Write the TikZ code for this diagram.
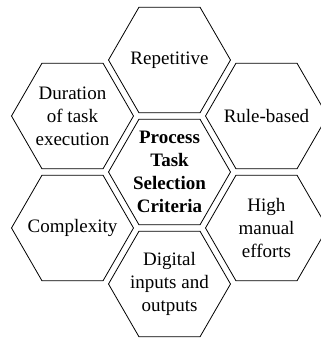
\documentclass[tikz,border=0pt]{standalone}
\usepackage{fontspec}
\setmainfont{Liberation Serif}
\usepackage{tikz}
\usetikzlibrary{positioning,calc}

\tikzset{
  hexcell/.style={align=center, inner sep=0pt,
    font=\fontsize{19}{23}\selectfont},
  hexcore/.style={hexcell, font=\fontsize{19}{23}\selectfont\bfseries},
  hexline/.style={line width=0.8pt, line join=miter}
}
% hexagon outline round a named node
\newcommand{\hexring}[1]{%
  \draw[hexline] (#1.center) ++(0:61pt)
    \foreach \a in {120,180,240,300,360} {-- ++(\a:61pt)} -- cycle;}

\begin{document}
\begin{tikzpicture}[x=1pt,y=1pt]
            \useasboundingbox (0,0) rectangle (321,338);
            \coordinate (o) at (169.5,166);

            \node[hexcore] (crit) at (o) {Process\\Task\\Selection\\Criteria};
            \node[hexcell] (rep)  at ($(o)+(90:112pt)$)  {Repetitive};
            \node[hexcell] (rule) at ($(o)+(30:112pt)$)  {Rule-based};
            \node[hexcell] (high) at ($(o)+(-30:112pt)$) {High\\manual\\efforts};
            \node[hexcell] (dig)  at ($(o)+(-90:112pt)$) {Digital\\inputs and\\outputs};
            \node[hexcell] (cplx) at ($(o)+(210:112pt)$) {Complexity};
            \node[hexcell] (dur)  at ($(o)+(150:112pt)$) {Duration\\of task\\execution};

            \foreach \n in {crit,rep,rule,high,dig,cplx,dur}
                \hexring{\n};
        \end{tikzpicture}
\end{document}
